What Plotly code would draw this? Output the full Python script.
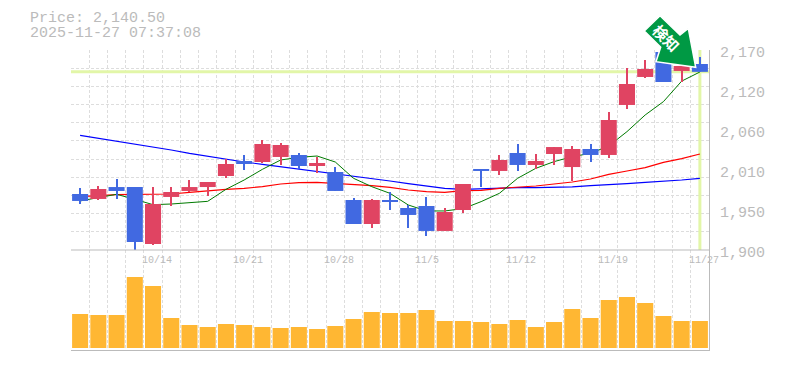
import plotly.graph_objects as go

price_title = "Price: 2,140.50"
time_title = "2025-11-27 07:37:08"
last_price = 2140.5
tick_positions = [4, 9, 14, 19, 24, 29, 34]
tick_labels = ["10/14", "10/21", "10/28", "11/5", "11/12", "11/19", "11/27"]
price_tick_values = [1900, 1954, 2008, 2062, 2116, 2170]
price_tick_labels = ["1,900", "1,950", "2,010", "2,060", "2,120", "2,170"]
badge_text = "検知"

opens = [1975.6, 1968.9, 1985.0, 1985.0, 1908.1, 1971.6, 1979.7, 1985.0, 1999.9, 2020.2, 2018.8, 2025.6,
         2028.3, 2013.4, 2005.3, 1967.5, 1935.1, 1967.5, 1956.7, 1959.4, 1925.7, 1954.0, 2009.4, 2006.7,
         2031.0, 2014.8, 2029.6, 2012.0, 2036.4, 2028.3, 2095.8, 2133.6, 2167.3, 2141.7, 2151.1]
highs = [1983.7, 1986.4, 1995.9, 1985.0, 1985.0, 1985.0, 1994.5, 1991.8, 2022.9, 2028.3, 2048.5, 2044.5,
         2031.0, 2025.6, 2012.0, 1970.2, 1968.9, 1978.3, 1960.8, 1971.6, 1956.7, 1989.1, 2009.4, 2028.3,
         2043.1, 2029.6, 2039.0, 2040.4, 2043.1, 2086.3, 2145.7, 2156.5, 2167.3, 2155.0, 2160.6]
lows = [1962.1, 1967.5, 1968.9, 1899.5, 1906.8, 1959.4, 1978.3, 1972.9, 1997.2, 2008.0, 2017.5, 2014.8,
        2009.4, 2004.0, 1979.7, 1935.1, 1929.7, 1954.0, 1929.7, 1918.9, 1925.7, 1950.0, 1985.0, 2001.3,
        2006.7, 2009.4, 2014.8, 1993.2, 2018.8, 2024.2, 2090.4, 2132.2, 2126.8, 2126.8, 2140.5]
closes = [1966.2, 1982.4, 1979.7, 1910.8, 1962.1, 1978.3, 1985.0, 1991.8, 2016.1, 2016.1, 2043.1, 2041.8,
          2013.4, 2017.5, 1979.7, 1935.1, 1967.5, 1964.8, 1947.3, 1925.7, 1951.3, 1989.1, 2006.7, 2021.5,
          2014.8, 2020.2, 2039.0, 2036.4, 2028.3, 2075.5, 2124.1, 2144.4, 2126.8, 2148.4, 2140.5]
ma_short = [1966.2, 1970.7, 1975.2, 1968.4, 1961.2, 1962.1, 1963.5, 1965.7, 1981.9, 1994.5, 2008.9, 2021.5,
            2025.1, 2026.9, 2018.8, 1996.8, 1985.5, 1976.5, 1960.8, 1952.7, 1952.7, 1955.8, 1965.3, 1976.5,
            1996.8, 2010.3, 2019.3, 2026.0, 2030.5, 2040.4, 2059.8, 2082.3, 2100.3, 2128.0, 2140.3]
ma_mid = [1972.0, 1973.8, 1974.7, 1975.2, 1975.2, 1975.6, 1977.9, 1980.1, 1981.9, 1983.3, 1985.5, 1989.1,
          1990.9, 1991.4, 1990.0, 1988.7, 1986.9, 1984.6, 1981.0, 1978.8, 1977.9, 1980.1, 1980.6, 1983.3,
          1984.6, 1986.4, 1989.1, 1991.8, 1995.9, 2002.2, 2006.7, 2011.2, 2018.4, 2023.3, 2029.6]
ma_long = [2054.8, 2050.8, 2047.2, 2043.6, 2039.5, 2035.0, 2030.5, 2026.5, 2022.4, 2018.8, 2015.7, 2012.5,
           2009.4, 2006.7, 2003.5, 1999.9, 1996.3, 1993.2, 1989.6, 1986.4, 1983.3, 1981.9, 1982.8, 1983.7,
           1984.2, 1984.2, 1984.6, 1985.1, 1986.9, 1987.8, 1989.6, 1991.4, 1992.7, 1994.5, 1996.8]
volumes = [34, 33, 33, 71, 62, 30, 23, 21, 24, 23, 21, 20, 21, 19, 22, 29, 36, 35, 35, 38, 27, 27, 26, 24,
           28, 21, 26, 39, 30, 48, 51, 45, 32, 27, 27]

W, H = 785, 370
L, R, T, B = 71, 709, 50, 350


def px(x):
    return (x - L) / (R - L)


def py(y):
    return (B - y) / (B - T)


days = list(range(len(opens)))
GRAY = "#bbbbbb"
GRID = "#dddddd"
FONT = "Liberation Mono"
fig = go.Figure()

fig.add_trace(go.Bar(x=days, y=volumes, yaxis="y2", marker=dict(color="#ffb733", line_width=0)))
fig.add_trace(go.Scatter(x=[days[0] - 0.5, days[-1] + 0.5], y=[last_price, last_price], mode="lines",
                         line=dict(color="#e2f6a8", width=3)))
fig.add_trace(go.Scatter(x=[days[-1], days[-1]], y=[1900, 2170], mode="lines",
                         line=dict(color="#e2f6a8", width=3)))
for series, colour, width in ((ma_long, "#0000ff", 1.2), (ma_mid, "#ff0000", 1.2), (ma_short, "#007a00", 1)):
    fig.add_trace(go.Scatter(x=days, y=series, mode="lines", line=dict(color=colour, width=width)))

# Candles: thin wick bars and wide body bars on an overlaid axis, so they sit above the lines.
candle_colours = ["#e04462" if c >= o else "#4169e1" for o, c in zip(opens, closes)]
fig.add_trace(go.Bar(x=days, base=lows, y=[h - l for h, l in zip(highs, lows)], yaxis="y3", width=0.055,
                     marker=dict(color=candle_colours, line_width=0)))
fig.add_trace(go.Bar(x=days, base=[min(o, c) for o, c in zip(opens, closes)],
                     y=[abs(c - o) for o, c in zip(opens, closes)], yaxis="y3", width=0.88,
                     marker=dict(color=candle_colours, line_width=0)))

arrow = [(660, 15.7), (644.3, 31), (660.7, 47.3), (656, 61.7), (695.7, 67.3), (688.3, 28.3), (680, 35)]
arrow_path = "M" + " L".join(f"{px(a):.5f},{py(b):.5f}" for a, b in arrow) + " Z"
shapes = [
    dict(type="line", xref="paper", yref="paper", x0=0, x1=1, y0=py(250), y1=py(250),
         line=dict(color=GRAY, width=1), layer="above"),
    dict(type="path", xref="paper", yref="paper", path=arrow_path, fillcolor="#009944",
         line=dict(color="#ffffff", width=1.5), layer="above"),
]

annotations = [
    dict(text=price_title, x=px(28), y=py(18.5)),
    dict(text=time_title, x=px(28), y=py(33.5)),
]
annotations = [dict(a, xref="paper", yref="paper", xanchor="left", yanchor="middle", showarrow=False,
                    font=dict(family=FONT, size=15, color=GRAY)) for a in annotations]
for pos, label in zip(tick_positions, tick_labels):
    annotations.append(dict(text=label, x=pos - 0.5, xref="x", y=py(260), yref="paper", xanchor="left",
                            yanchor="middle", showarrow=False, xshift=-4,
                            font=dict(family=FONT, size=10, color=GRAY)))
annotations.append(dict(text=badge_text, x=px(666), y=py(38), xref="paper", yref="paper",
                        showarrow=False, textangle=45, xanchor="center", yanchor="middle",
                        font=dict(family="Noto Sans CJK JP", size=15, color="#ffffff", weight=700)))

fig.update_layout(
    width=W, height=H, autosize=False, showlegend=False, hovermode=False,
    paper_bgcolor="#ffffff", plot_bgcolor="#ffffff",
    margin=dict(l=L, r=W - R, t=T, b=H - B, pad=0, autoexpand=False),
    barmode="overlay", bargap=0.12,
    shapes=shapes, annotations=annotations,
    xaxis=dict(range=[-0.5, len(days) - 0.5], anchor="y2", tickmode="linear", tick0=-0.5, dtick=1,
               showticklabels=False, ticks="", showgrid=True, gridcolor=GRID, griddash="3px,2px", gridwidth=1,
               showline=True, linecolor=GRAY, linewidth=1, zeroline=False, automargin=False),
    yaxis=dict(domain=[1 / 3, 1], range=[1900, 2170.01], side="right", tickmode="array",
               tickvals=price_tick_values, ticktext=price_tick_labels, ticks="", showgrid=False,
               ticklabelstandoff=7, ticklabelshift=2, zeroline=False, automargin=False,
               tickfont=dict(family=FONT, size=15, color=GRAY), showline=True, linecolor=GRAY, linewidth=1,
               minor=dict(tick0=1900, dtick=270 / 11, showgrid=True, gridcolor=GRID, griddash="3px,2px",
                          gridwidth=1, ticks="")),
    yaxis2=dict(domain=[0, 1 / 3], range=[-2, 98], side="right", showticklabels=False, ticks="",
                showgrid=False, zeroline=False, showline=True, linecolor=GRAY, linewidth=1),
    yaxis3=dict(overlaying="y", range=[1900, 2170.01], side="right", visible=False, showgrid=False,
                zeroline=False),
)

fig.write_html("out.html", post_script="document.body.style.margin='0';",
               config={"displayModeBar": False})
